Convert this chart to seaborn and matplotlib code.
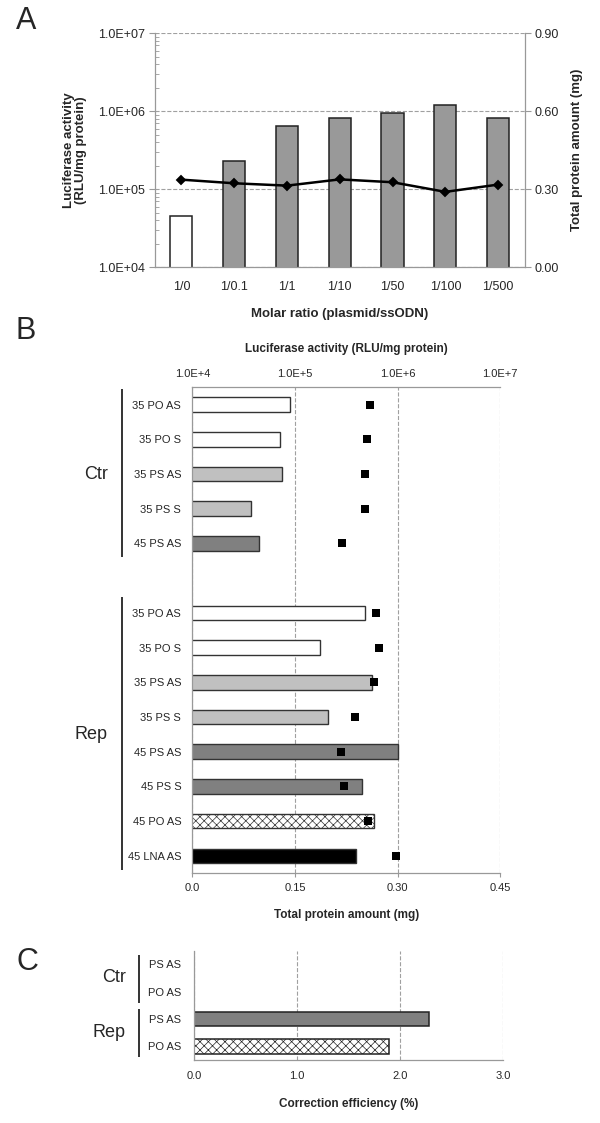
import numpy as np
import pandas as pd
import matplotlib

matplotlib.use('Agg')
import matplotlib.pyplot as plt
import matplotlib.transforms as mtransforms
from matplotlib.ticker import FuncFormatter, LogLocator, NullLocator
import seaborn as sns

# ---- panel A data ----
ratios = ["1/0", "1/0.1", "1/1", "1/10", "1/50", "1/100", "1/500"]
luc_a = [4.6e4, 2.3e5, 6.5e5, 8.1e5, 9.4e5, 1.19e6, 8.1e5]
protein_a = [0.337, 0.323, 0.314, 0.338, 0.327, 0.290, 0.318]
a_left_ticks = [1e4, 1e5, 1e6, 1e7]
a_right_ticks = [0.0, 0.3, 0.6, 0.9]

# ---- panel B data ----
groups_b = ["Ctr"] * 5 + ["Rep"] * 8
oligos_b = ["35 PO AS", "35 PO S", "35 PS AS", "35 PS S", "45 PS AS",
            "35 PO AS", "35 PO S", "35 PS AS", "35 PS S", "45 PS AS",
            "45 PS S", "45 PO AS", "45 LNA AS"]
luc_b = [8.9e4, 7.2e4, 7.4e4, 3.7e4, 4.5e4,
         4.8e5, 1.75e5, 5.6e5, 2.1e5, 1.0e6, 4.5e5, 5.9e5, 3.9e5]
protein_b = [0.259, 0.255, 0.252, 0.253, 0.219,
             0.268, 0.273, 0.265, 0.238, 0.217, 0.222, 0.256, 0.297]
b_top_ticks = [1e4, 1e5, 1e6, 1e7]
b_bottom_ticks = [0.0, 0.15, 0.30, 0.45]
b_bottom_labels = ["0.0", "0.15", "0.30", "0.45"]

# ---- panel C data ----
groups_c = ["Ctr", "Ctr", "Rep", "Rep"]
oligos_c = ["PS AS", "PO AS", "PS AS", "PO AS"]
efficiency_c = [0.0, 0.0, 2.28, 1.89]
c_ticks = [0.0, 1.0, 2.0, 3.0]

# ---- styles ----
LIGHT = '#c0c0c0'
DARK = '#808080'
fill_b = {"35 PO AS": "white", "35 PO S": "white", "35 PS AS": LIGHT,
          "35 PS S": LIGHT, "45 PS AS": DARK, "45 PS S": DARK,
          "45 PO AS": "white", "45 LNA AS": "black"}
fill_c = {"PS AS": DARK, "PO AS": "white"}
hatched = {"45 PO AS", "PO AS"}
SPINE = '#999999'
GRID = '#a0a0a0'

sns.set_style('white')
plt.rcParams['font.family'] = ['Liberation Sans', 'DejaVu Sans']
plt.rcParams['hatch.linewidth'] = 0.5


def sci_long(v, pos=None):
    return f"{v:.1E}"


def sci_short(v, pos=None):
    return f"1.0E+{int(round(np.log10(v)))}"


def style_spines(ax, show):
    for side, sp in ax.spines.items():
        sp.set_visible(side in show)
        sp.set_color(SPINE)
        sp.set_linewidth(0.9)


def set_hatch(p):
    p.set_hatch('xxxx')
    if hasattr(p, 'set_hatchcolor'):
        p.set_hatchcolor('#707070')


def bracket(ax, label, start, end, xline, xtext, pad_top, pad_bot):
    trans = mtransforms.blended_transform_factory(ax.transAxes, ax.transData)
    ax.plot([xline, xline], [start - pad_top, end + pad_bot], transform=trans,
            color='#333333', lw=1.4, clip_on=False, solid_capstyle='butt')
    ax.text(xtext, (start + end) / 2, label, transform=trans, ha='right',
            va='center', fontsize=13)


fig = plt.figure(figsize=(6, 11.23), dpi=100)

# =================== panel A ===================
axa = fig.add_axes([0.2583, 0.762, 0.616, 0.2084])
pal_a = {r: ("white" if i == 0 else '#999999') for i, r in enumerate(ratios)}
sns.barplot(x=ratios, y=luc_a, hue=ratios, palette=pal_a, order=ratios,
            legend=False, saturation=1, width=0.42, errorbar=None,
            edgecolor='#222222', linewidth=1.1, ax=axa)
axa.set_yscale('log')
axa.set_ylim(1e4, 1e7)
axa.set_yticks(a_left_ticks)
axa.yaxis.set_major_formatter(FuncFormatter(sci_long))
axa.yaxis.set_minor_locator(LogLocator(base=10, subs=np.arange(2, 10)))
axa.yaxis.set_minor_formatter(FuncFormatter(lambda v, p: ""))
axa.yaxis.grid(True, which='major', ls='--', color=GRID, lw=0.8)
axa.set_axisbelow(True)

axa2 = axa.twinx()
sns.pointplot(x=ratios, y=protein_a, order=ratios, ax=axa2, color='black',
              markers='D', markersize=4.5, linewidth=1.8, errorbar=None)
axa2.set_ylim(0, 0.9)
axa2.set_yticks(a_right_ticks)
axa2.yaxis.set_major_formatter(FuncFormatter(lambda v, p: f"{v:.2f}"))

n_a = len(ratios)
axa.set_xlim(-0.5, n_a - 0.5)
axa.set_xticks(np.arange(-0.5, n_a, 1))
axa.set_xticklabels([])
axa.set_xticks(np.arange(n_a), labels=ratios, minor=True)
axa.tick_params(axis='x', which='major', direction='inout', length=7,
                color=SPINE, width=0.8)
axa.tick_params(axis='x', which='minor', length=0, pad=10, labelsize=9)
axa.tick_params(axis='y', which='major', direction='out', length=4,
                color=SPINE, width=0.8, labelsize=9, pad=3)
axa.tick_params(axis='y', which='minor', direction='in', length=3,
                color=SPINE, width=0.6)
axa2.tick_params(axis='y', direction='out', length=4, color=SPINE,
                 width=0.8, labelsize=9, pad=3)
style_spines(axa, ['left', 'bottom'])
style_spines(axa2, ['right'])
axa.set_xlabel("Molar ratio (plasmid/ssODN)", fontsize=9.5,
               fontweight='bold', labelpad=11)
axa.set_ylabel("Luciferase activity\n(RLU/mg protein)", fontsize=9.5,
               fontweight='bold', linespacing=1.05)
axa.yaxis.set_label_coords(-0.183, 0.5)
axa2.set_ylabel("Total protein amount (mg)", fontsize=9.5, fontweight='bold')
axa2.yaxis.set_label_coords(1.126, 0.5)

# =================== panel B ===================
keys_b = [f"{g} {o}" for g, o in zip(groups_b, oligos_b)]
order_b = keys_b[:5] + ["gap"] + keys_b[5:]
pos_b = {k: i for i, k in enumerate(order_b)}
oligo_of = dict(zip(keys_b, oligos_b))
df_b = pd.DataFrame({"key": keys_b, "oligo": oligos_b, "luc": luc_b,
                     "protein": protein_b})
pal_b = {k: fill_b[o] for k, o in zip(keys_b, oligos_b)}

axb = fig.add_axes([0.3205, 0.2224, 0.5133, 0.4328])
sns.barplot(data=df_b, x="luc", y="key", hue="key", order=order_b,
            hue_order=keys_b, palette=pal_b, legend=False, saturation=1,
            width=0.42, errorbar=None, edgecolor='#333333', linewidth=1.0,
            orient='h', ax=axb)
for p in axb.patches:
    idx = int(round(p.get_y() + p.get_height() / 2))
    if 0 <= idx < len(order_b) and oligo_of.get(order_b[idx]) in hatched:
        set_hatch(p)
axb.set_xscale('log')
axb.set_xlim(1e4, 1e7)
axb.set_xticks(b_top_ticks)
axb.xaxis.set_major_formatter(FuncFormatter(sci_short))
axb.xaxis.set_minor_locator(NullLocator())
axb.xaxis.grid(True, which='major', ls='--', color=GRID, lw=0.8)
axb.set_axisbelow(True)

axb2 = axb.twiny()
sns.scatterplot(x=protein_b, y=[pos_b[k] for k in keys_b], ax=axb2,
                marker='s', s=40, color='black', linewidth=0, zorder=5)
axb2.set_xlim(0, 0.45)
axb2.set_xticks(b_bottom_ticks, labels=b_bottom_labels)
axb2.xaxis.tick_bottom()
axb2.xaxis.set_label_position('bottom')
axb2.tick_params(axis='x', direction='out', length=3, color=SPINE,
                 width=0.8, labelsize=8, pad=4)
axb.xaxis.tick_top()
axb.xaxis.set_label_position('top')
axb.tick_params(axis='x', which='major', length=0, labelsize=8, pad=6)

n_b = len(order_b)
axb.set_ylim(n_b - 0.5, -0.5)
axb.set_yticks(np.arange(-0.5, n_b, 1))
axb.set_yticklabels([])
axb.set_yticks([pos_b[k] for k in keys_b], labels=oligos_b, minor=True)
axb.tick_params(axis='y', which='major', direction='inout', length=6,
                color=SPINE, width=0.8)
axb.tick_params(axis='y', which='minor', length=0, pad=8, labelsize=8)
style_spines(axb, ['left', 'top'])
style_spines(axb2, ['bottom'])
axb.set_ylabel("")
axb.set_xlabel("Luciferase activity (RLU/mg protein)", fontsize=8.5,
               fontweight='bold')
axb.xaxis.set_label_coords(0.5, 1.073)
axb2.set_xlabel("Total protein amount (mg)", fontsize=8.5, fontweight='bold')
axb2.xaxis.set_label_coords(0.5, -0.0735)
axb2.set_ylabel("")

for g in ["Ctr", "Rep"]:
    idx = [pos_b[k] for k, gg in zip(keys_b, groups_b) if gg == g]
    bracket(axb, g, min(idx), max(idx), -0.229, -0.274, 0.45, 0.4)

# =================== panel C ===================
keys_c = [f"{g} {o}" for g, o in zip(groups_c, oligos_c)]
df_c = pd.DataFrame({"key": keys_c, "oligo": oligos_c, "eff": efficiency_c})
pal_c = {k: fill_c[o] for k, o in zip(keys_c, oligos_c)}
axc = fig.add_axes([0.3233, 0.0561, 0.515, 0.0975])
sns.barplot(data=df_c, x="eff", y="key", hue="key", order=keys_c,
            hue_order=keys_c, palette=pal_c, legend=False, saturation=1,
            width=0.53, errorbar=None, edgecolor='#222222', linewidth=1.1,
            orient='h', ax=axc)
for p in axc.patches:
    if p.get_width() == 0:
        p.set_visible(False)
        continue
    idx = int(round(p.get_y() + p.get_height() / 2))
    if oligos_c[idx] in hatched:
        set_hatch(p)
n_c = len(keys_c)
axc.set_xlim(0, 3)
axc.set_xticks(c_ticks, labels=[f"{v:.1f}" for v in c_ticks])
axc.xaxis.grid(True, which='major', ls='--', color=GRID, lw=0.8)
axc.set_axisbelow(True)
axc.set_ylim(n_c - 0.5, -0.5)
axc.set_yticks(np.arange(-0.5, n_c, 1))
axc.set_yticklabels([])
axc.set_yticks(np.arange(n_c), labels=oligos_c, minor=True)
axc.tick_params(axis='y', which='major', direction='inout', length=6,
                color=SPINE, width=0.8)
axc.tick_params(axis='y', which='minor', length=0, pad=9, labelsize=8)
axc.tick_params(axis='x', direction='out', length=3, color=SPINE,
                width=0.8, labelsize=8, pad=5)
style_spines(axc, ['left', 'bottom'])
axc.set_ylabel("")
axc.set_xlabel("Correction efficiency (%)", fontsize=8.5, fontweight='bold')
axc.xaxis.set_label_coords(0.5, -0.35)
for g in ["Ctr", "Rep"]:
    idx = [i for i, gg in enumerate(groups_c) if gg == g]
    bracket(axc, g, min(idx), max(idx), -0.179, -0.221, 0.35, 0.4)

# panel letters
for letter, (px, py) in {"A": (26, 21), "B": (26, 331), "C": (27, 962)}.items():
    fig.text(px / 600, 1 - py / 1123, letter, fontsize=22, ha='center',
             va='center')

fig.savefig('out.png', dpi=100)
